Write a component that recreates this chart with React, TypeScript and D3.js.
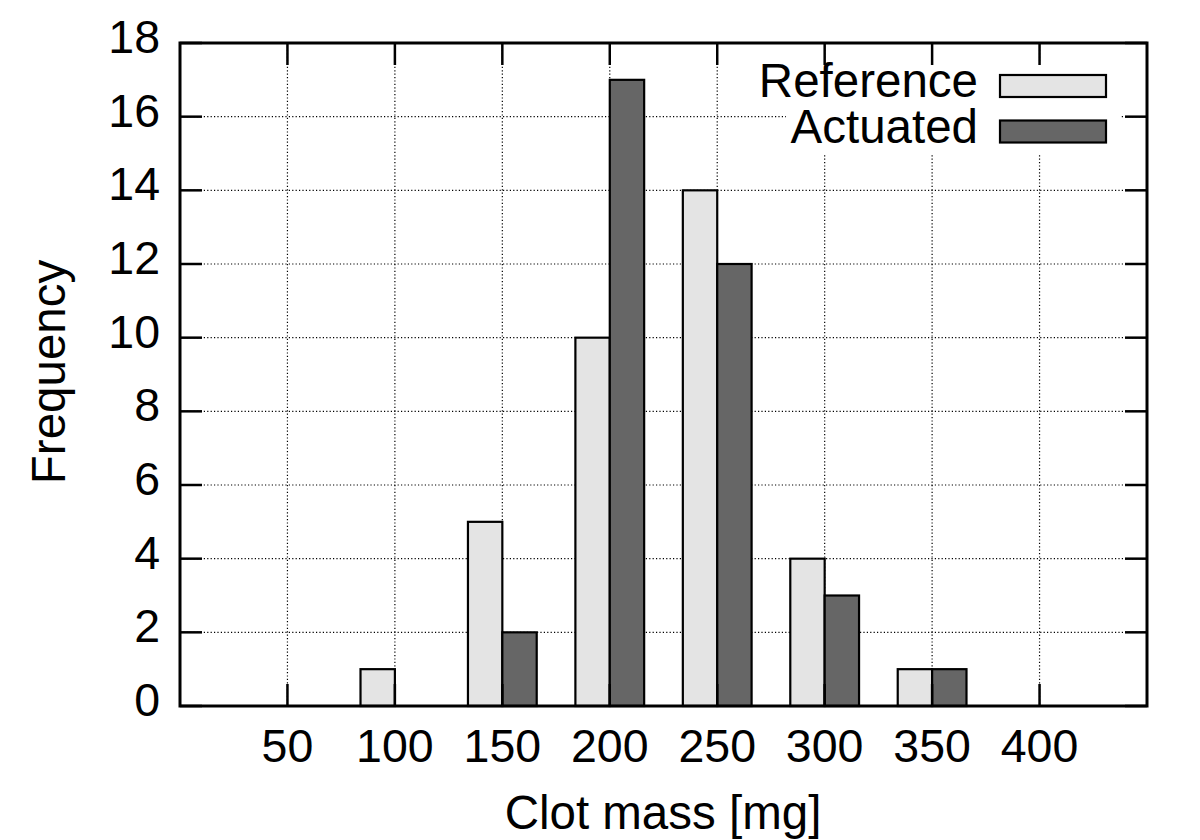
import * as d3 from "d3";
import { useEffect, useRef } from "react";

const categories = ["50", "100", "150", "200", "250", "300", "350", "400"];
const referenceValues = [0, 1, 5, 10, 14, 4, 1, 0];
const actuatedValues = [0, 0, 2, 17, 12, 3, 1, 0];
const yTicks = [0, 2, 4, 6, 8, 10, 12, 14, 16, 18];

const series = [
  { name: "Reference", values: referenceValues, fill: "#e4e4e4" },
  { name: "Actuated", values: actuatedValues, fill: "#666666" }
];

export default function App() {
  const ref = useRef<SVGSVGElement | null>(null);
  const width = 1200;
  const height = 840;

  useEffect(() => {
    if (!ref.current) return;

    const svg = d3.select(ref.current);
    svg.selectAll("*").remove();

    const font = "'Liberation Sans', Arial, Helvetica, sans-serif";
    const left = 180, right = 1147, top = 43, bottom = 706;
    const tickLen = 22;

    const x = d3.scaleLinear().domain([-1, categories.length]).range([left, right]);
    const y = d3.scaleLinear().domain([0, 18]).range([bottom, top]);
    const barW = x(0.32) - x(0);

    svg.append("rect")
      .attr("width", width).attr("height", height).attr("fill", "#fff");

    // grid (behind everything)
    const grid = svg.append("g")
      .attr("stroke", "#000")
      .attr("stroke-width", 1.2)
      .attr("stroke-dasharray", "1.2,2.2");

    grid.selectAll("line.gy")
      .data(yTicks.filter(t => t > 0 && t < 18))
      .enter().append("line")
      .attr("x1", left).attr("x2", right)
      .attr("y1", d => y(d)).attr("y2", d => y(d));

    grid.selectAll("line.gx")
      .data(categories)
      .enter().append("line")
      .attr("x1", (_, i) => x(i)).attr("x2", (_, i) => x(i))
      .attr("y1", top).attr("y2", bottom);

    // bars
    series.forEach((s, si) => {
      svg.append("g")
        .selectAll("rect")
        .data(s.values.map((v, i) => ({ v, i })).filter(d => d.v > 0))
        .enter().append("rect")
        .attr("x", d => x(d.i) + (si === 0 ? -barW : 0))
        .attr("y", d => y(d.v))
        .attr("width", barW)
        .attr("height", d => y(0) - y(d.v))
        .attr("fill", s.fill)
        .attr("stroke", "#000")
        .attr("stroke-width", 2.2);
    });

    // legend (opaque background)
    const lg = svg.append("g");
    lg.append("rect")
      .attr("x", 786).attr("y", 62)
      .attr("width", 334).attr("height", 92)
      .attr("fill", "#fff");

    series.forEach((s, si) => {
      const cy = 86 + si * 45.5;
      lg.append("rect")
        .attr("x", 1000).attr("y", cy - 11)
        .attr("width", 106).attr("height", 22)
        .attr("fill", s.fill)
        .attr("stroke", "#000")
        .attr("stroke-width", 2.2);
      lg.append("text")
        .attr("x", 978).attr("y", cy + 11)
        .attr("text-anchor", "end")
        .attr("font-family", font)
        .attr("font-size", 47.5)
        .text(s.name);
    });

    // ticks (mirrored on all sides)
    const ticks = svg.append("g").attr("stroke", "#000").attr("stroke-width", 2.5);
    yTicks.forEach(t => {
      ticks.append("line").attr("x1", left).attr("x2", left + tickLen)
        .attr("y1", y(t)).attr("y2", y(t));
      ticks.append("line").attr("x1", right - tickLen).attr("x2", right)
        .attr("y1", y(t)).attr("y2", y(t));
    });
    categories.forEach((_, i) => {
      ticks.append("line").attr("x1", x(i)).attr("x2", x(i))
        .attr("y1", bottom).attr("y2", bottom - tickLen);
      ticks.append("line").attr("x1", x(i)).attr("x2", x(i))
        .attr("y1", top).attr("y2", top + tickLen);
    });

    // frame
    svg.append("rect")
      .attr("x", left).attr("y", top)
      .attr("width", right - left).attr("height", bottom - top)
      .attr("fill", "none")
      .attr("stroke", "#000")
      .attr("stroke-width", 3);

    // tick labels
    svg.append("g").selectAll("text")
      .data(yTicks)
      .enter().append("text")
      .attr("x", 160)
      .attr("y", d => y(d) + 10)
      .attr("text-anchor", "end")
      .attr("font-family", font)
      .attr("font-size", 46.5)
      .text(d => d);

    svg.append("g").selectAll("text")
      .data(categories)
      .enter().append("text")
      .attr("x", (_, i) => x(i))
      .attr("y", 762)
      .attr("text-anchor", "middle")
      .attr("font-family", font)
      .attr("font-size", 46.5)
      .text(d => d);

    // axis titles
    svg.append("text")
      .attr("x", 663).attr("y", 829)
      .attr("text-anchor", "middle")
      .attr("font-family", font)
      .attr("font-size", 47.5)
      .text("Clot mass [mg]");

    svg.append("text")
      .attr("transform", "translate(65,372) rotate(-90)")
      .attr("text-anchor", "middle")
      .attr("font-family", font)
      .attr("font-size", 47.5)
      .text("Frequency");
  }, []);

  return (
    <svg
      ref={ref}
      width={width}
      height={height}
      style={{ position: "absolute", left: 0, top: 0, display: "block" }}
    />
  );
}
